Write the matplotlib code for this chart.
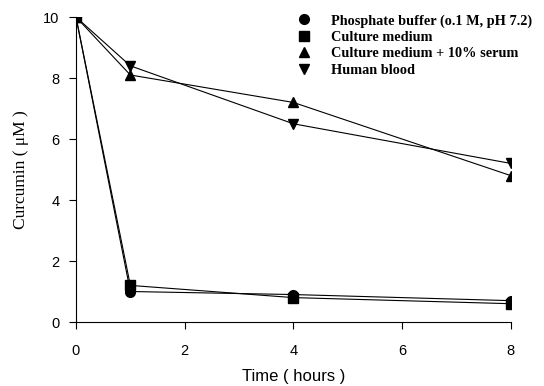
import matplotlib.pyplot as plt

# Curcumin stability over time in different media
hours = [0, 1, 4, 8]
phosphate_buffer = [10, 1.0, 0.9, 0.7]
culture_medium = [10, 1.2, 0.8, 0.6]
medium_serum = [10, 8.1, 7.2, 4.8]
human_blood = [10, 8.4, 6.5, 5.2]

labels = ['Phosphate buffer (o.1 M, pH 7.2)', 'Culture medium',
          'Culture medium + 10% serum', 'Human blood']

fig = plt.figure(figsize=(5.44, 3.86), dpi=100)
ax = fig.add_axes([0.1397, 0.1658, 0.7993, 0.79])

series = [phosphate_buffer, culture_medium, medium_serum, human_blood]
markers = ['o', 's', '^', 'v']
for vals, m, lab in zip(series, markers, labels):
    ax.plot(hours, vals, color='black', linewidth=0.8, marker=m,
            markersize=7, label=lab)

ax.set_xlim(0, 8)
ax.set_ylim(0, 10)
ax.set_xticks([0, 2, 4, 6, 8])
ax.set_yticks([0, 2, 4, 6, 8, 10])
ax.spines['top'].set_visible(False)
ax.spines['right'].set_visible(False)
ax.tick_params(direction='out', length=5, width=0.8, labelsize=10.5)
ax.tick_params(axis='x', pad=11)
ax.tick_params(axis='y', pad=7)
for t in ax.get_xticklabels() + ax.get_yticklabels():
    t.set_family('Liberation Sans')
ax.set_xlabel('Time ( hours )', family='Liberation Sans', fontsize=12, labelpad=8)
ax.set_ylabel('Curcumin ( μM )', family='Liberation Serif', fontsize=12.5, labelpad=10)

# legend shows markers only, bold serif text
handles = [plt.Line2D([], [], color='black', linestyle='none', marker=m, markersize=7)
           for m in markers]
leg = ax.legend(handles, labels, loc='upper left', bbox_to_anchor=(0.508, 0.997),
                bbox_transform=fig.transFigure, frameon=False,
                handlelength=2, handletextpad=0.95, labelspacing=0.24,
                prop={'family': 'Liberation Serif', 'weight': 'bold', 'size': 10.3})

for s in ax.spines.values():
    s.set_linewidth(0.8)

fig.savefig('out.png', dpi=100)
